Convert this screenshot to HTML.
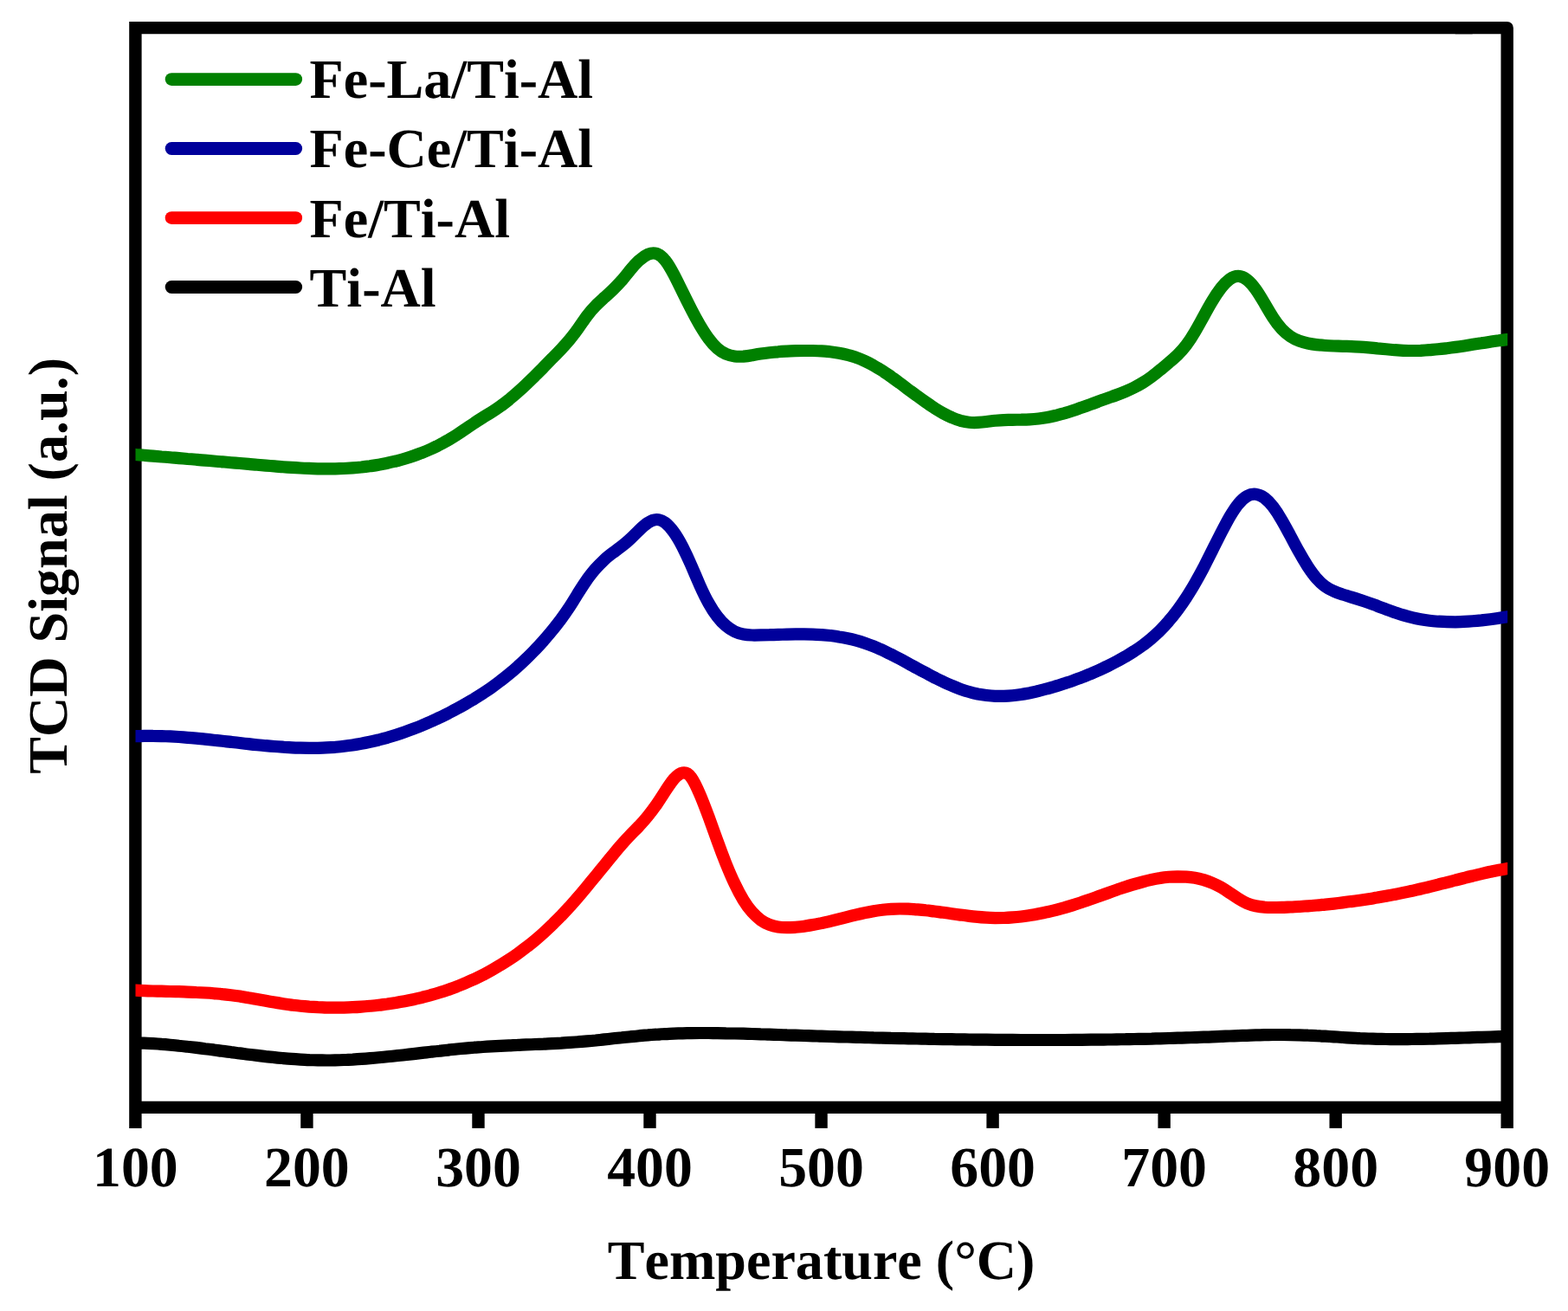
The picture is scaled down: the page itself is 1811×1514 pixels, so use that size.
<!DOCTYPE html>
<html lang="en">
<head>
<meta charset="utf-8">
<title>H2-TPR profiles</title>
<style>
html,body{margin:0;padding:0;background:#fff;}
body{width:1811px;height:1514px;overflow:hidden;}
svg{display:block;}
text{font-family:"Liberation Serif", "DejaVu Serif", serif;font-weight:bold;fill:#000;font-kerning:none;font-variant-ligatures:none;text-rendering:geometricPrecision;}
</style>
</head>
<body>
<svg width="1811" height="1514" viewBox="0 0 1811 1514">
<rect x="0" y="0" width="1811" height="1514" fill="#ffffff"/>
<g fill="none" stroke="#000" stroke-width="14.40">
<path d="M156.40 1302.90V32.15H1700.70" stroke-linejoin="miter"/>
<path d="M1680.70 32.15H1740.70V1302.90" stroke-linejoin="round"/>
<path d="M156.40 1278.85H1740.70"/>
<path d="M354.44 1278.85V1302.90"/>
<path d="M552.48 1278.85V1302.90"/>
<path d="M750.51 1278.85V1302.90"/>
<path d="M948.55 1278.85V1302.90"/>
<path d="M1146.59 1278.85V1302.90"/>
<path d="M1344.62 1278.85V1302.90"/>
<path d="M1542.66 1278.85V1302.90"/>
</g>
<clipPath id="plot"><rect x="156.5" y="0" width="1584.7" height="1514"/></clipPath>
<g fill="none" stroke-width="14.20" stroke-linejoin="round" stroke-linecap="butt" clip-path="url(#plot)">
<path stroke="#000000" d="M150.5 1204.3L156.5 1204.4C159.8 1204.5 163.2 1204.6 166.5 1204.7C169.9 1204.8 173.2 1205.0 176.6 1205.2C179.9 1205.4 183.2 1205.6 186.6 1205.9C189.9 1206.1 193.3 1206.4 196.6 1206.7C200.0 1207.0 203.3 1207.3 206.6 1207.7C210.0 1208.0 213.3 1208.4 216.7 1208.8C220.0 1209.1 223.4 1209.5 226.7 1209.9C230.1 1210.3 233.4 1210.7 236.7 1211.2C240.1 1211.6 243.4 1212.0 246.8 1212.4C250.1 1212.9 253.5 1213.3 256.8 1213.8C260.1 1214.2 263.5 1214.6 266.8 1215.1C270.2 1215.5 273.5 1216.0 276.9 1216.4C280.2 1216.8 283.5 1217.3 286.9 1217.7C290.2 1218.1 293.6 1218.5 296.9 1218.9C300.3 1219.3 303.6 1219.7 306.9 1220.1C310.3 1220.4 313.6 1220.8 317.0 1221.1C320.3 1221.5 323.7 1221.8 327.0 1222.1C330.3 1222.4 333.7 1222.7 337.0 1222.9C340.4 1223.2 343.7 1223.4 347.1 1223.6C350.4 1223.8 353.8 1223.9 357.1 1224.1C360.4 1224.2 363.8 1224.3 367.1 1224.4C370.5 1224.4 373.8 1224.5 377.2 1224.5C380.5 1224.5 383.8 1224.4 387.2 1224.3C390.5 1224.3 393.9 1224.2 397.2 1224.0C400.6 1223.9 403.9 1223.7 407.2 1223.6C410.6 1223.4 413.9 1223.2 417.3 1222.9C420.6 1222.7 424.0 1222.4 427.3 1222.2C430.6 1221.9 434.0 1221.6 437.3 1221.3C440.7 1221.0 444.0 1220.7 447.4 1220.3C450.7 1220.0 454.0 1219.7 457.4 1219.3C460.7 1218.9 464.1 1218.6 467.4 1218.2C470.8 1217.8 474.1 1217.5 477.5 1217.1C480.8 1216.7 484.1 1216.3 487.5 1215.9C490.8 1215.5 494.2 1215.2 497.5 1214.8C500.9 1214.4 504.2 1214.0 507.5 1213.7C510.9 1213.3 514.2 1212.9 517.6 1212.6C520.9 1212.2 524.3 1211.9 527.6 1211.5C530.9 1211.2 534.3 1210.9 537.6 1210.6C541.0 1210.3 544.3 1210.0 547.7 1209.7C551.0 1209.5 554.3 1209.2 557.7 1209.0C561.0 1208.8 564.4 1208.6 567.7 1208.4C571.1 1208.2 574.4 1208.0 577.7 1207.8C581.1 1207.6 584.4 1207.5 587.8 1207.3C591.1 1207.2 594.5 1207.0 597.8 1206.9C601.2 1206.7 604.5 1206.6 607.8 1206.4C611.2 1206.3 614.5 1206.2 617.9 1206.0C621.2 1205.9 624.6 1205.7 627.9 1205.6C631.2 1205.4 634.6 1205.3 637.9 1205.1C641.3 1204.9 644.6 1204.7 648.0 1204.6C651.3 1204.4 654.6 1204.2 658.0 1203.9C661.3 1203.7 664.7 1203.5 668.0 1203.2C671.4 1203.0 674.7 1202.7 678.0 1202.4C681.4 1202.1 684.7 1201.8 688.1 1201.5C691.4 1201.1 694.8 1200.8 698.1 1200.4C701.4 1200.1 704.8 1199.7 708.1 1199.3C711.5 1199.0 714.8 1198.6 718.2 1198.3C721.5 1197.9 724.9 1197.6 728.2 1197.2C731.5 1196.9 734.9 1196.6 738.2 1196.2C741.6 1195.9 744.9 1195.6 748.3 1195.4C751.6 1195.1 754.9 1194.9 758.3 1194.7C761.6 1194.4 765.0 1194.3 768.3 1194.1C771.7 1193.9 775.0 1193.8 778.3 1193.6C781.7 1193.5 785.0 1193.4 788.4 1193.3C791.7 1193.2 795.1 1193.2 798.4 1193.1C801.7 1193.1 805.1 1193.1 808.4 1193.0C811.8 1193.0 815.1 1193.0 818.5 1193.0C821.8 1193.0 825.1 1193.1 828.5 1193.1C831.8 1193.1 835.2 1193.2 838.5 1193.3C841.9 1193.3 845.2 1193.4 848.6 1193.5C851.9 1193.5 855.2 1193.6 858.6 1193.7C861.9 1193.8 865.3 1193.9 868.6 1194.0C872.0 1194.1 875.3 1194.2 878.6 1194.3C882.0 1194.4 885.3 1194.6 888.7 1194.7C892.0 1194.8 895.4 1194.9 898.7 1195.0C902.0 1195.1 905.4 1195.2 908.7 1195.4C912.1 1195.5 915.4 1195.6 918.8 1195.7C922.1 1195.8 925.4 1195.9 928.8 1196.0C932.1 1196.1 935.5 1196.2 938.8 1196.3C942.2 1196.4 945.5 1196.6 948.9 1196.7C952.2 1196.8 955.5 1196.9 958.9 1197.0C962.2 1197.1 965.6 1197.2 968.9 1197.3C972.3 1197.4 975.6 1197.5 978.9 1197.5C982.3 1197.6 985.6 1197.7 989.0 1197.8C992.3 1197.9 995.7 1198.0 999.0 1198.1C1002.3 1198.2 1005.7 1198.3 1009.0 1198.4C1012.4 1198.4 1015.7 1198.5 1019.1 1198.6C1022.4 1198.7 1025.7 1198.8 1029.1 1198.9C1032.4 1198.9 1035.8 1199.0 1039.1 1199.1C1042.5 1199.2 1045.8 1199.2 1049.1 1199.3C1052.5 1199.4 1055.8 1199.4 1059.2 1199.5C1062.5 1199.6 1065.9 1199.6 1069.2 1199.7C1072.6 1199.8 1075.9 1199.8 1079.2 1199.9C1082.6 1199.9 1085.9 1200.0 1089.3 1200.1C1092.6 1200.1 1096.0 1200.2 1099.3 1200.2C1102.6 1200.3 1106.0 1200.3 1109.3 1200.4C1112.7 1200.4 1116.0 1200.5 1119.4 1200.5C1122.7 1200.5 1126.0 1200.6 1129.4 1200.6C1132.7 1200.7 1136.1 1200.7 1139.4 1200.7C1142.8 1200.8 1146.1 1200.8 1149.4 1200.8C1152.8 1200.8 1156.1 1200.9 1159.5 1200.9C1162.8 1200.9 1166.2 1200.9 1169.5 1200.9C1172.8 1201.0 1176.2 1201.0 1179.5 1201.0C1182.9 1201.0 1186.2 1201.0 1189.6 1201.0C1192.9 1201.0 1196.3 1201.0 1199.6 1201.0C1202.9 1201.0 1206.3 1201.0 1209.6 1201.0C1213.0 1201.0 1216.3 1201.0 1219.7 1201.0C1223.0 1201.0 1226.3 1201.0 1229.7 1201.0C1233.0 1200.9 1236.4 1200.9 1239.7 1200.9C1243.1 1200.9 1246.4 1200.9 1249.7 1200.8C1253.1 1200.8 1256.4 1200.8 1259.8 1200.7C1263.1 1200.7 1266.5 1200.7 1269.8 1200.6C1273.1 1200.6 1276.5 1200.5 1279.8 1200.5C1283.2 1200.5 1286.5 1200.4 1289.9 1200.3C1293.2 1200.3 1296.5 1200.2 1299.9 1200.2C1303.2 1200.1 1306.6 1200.1 1309.9 1200.0C1313.3 1199.9 1316.6 1199.9 1320.0 1199.8C1323.3 1199.7 1326.6 1199.6 1330.0 1199.6C1333.3 1199.5 1336.7 1199.4 1340.0 1199.3C1343.4 1199.2 1346.7 1199.1 1350.0 1199.0C1353.4 1198.9 1356.7 1198.8 1360.1 1198.7C1363.4 1198.6 1366.8 1198.5 1370.1 1198.4C1373.4 1198.3 1376.8 1198.2 1380.1 1198.1C1383.5 1198.0 1386.8 1197.8 1390.2 1197.7C1393.5 1197.6 1396.8 1197.5 1400.2 1197.3C1403.5 1197.2 1406.9 1197.1 1410.2 1196.9C1413.6 1196.8 1416.9 1196.6 1420.2 1196.5C1423.6 1196.4 1426.9 1196.2 1430.3 1196.1C1433.6 1196.0 1437.0 1195.9 1440.3 1195.8C1443.7 1195.6 1447.0 1195.5 1450.3 1195.4C1453.7 1195.3 1457.0 1195.3 1460.4 1195.2C1463.7 1195.1 1467.1 1195.1 1470.4 1195.0C1473.7 1195.0 1477.1 1195.0 1480.4 1195.0C1483.8 1195.0 1487.1 1195.0 1490.5 1195.1C1493.8 1195.1 1497.1 1195.2 1500.5 1195.3C1503.8 1195.4 1507.2 1195.5 1510.5 1195.7C1513.9 1195.8 1517.2 1196.0 1520.5 1196.2C1523.9 1196.3 1527.2 1196.5 1530.6 1196.7C1533.9 1196.9 1537.3 1197.1 1540.6 1197.3C1543.9 1197.6 1547.3 1197.8 1550.6 1198.0C1554.0 1198.2 1557.3 1198.4 1560.7 1198.6C1564.0 1198.8 1567.4 1198.9 1570.7 1199.1C1574.0 1199.2 1577.4 1199.4 1580.7 1199.5C1584.1 1199.6 1587.4 1199.7 1590.8 1199.8C1594.1 1199.9 1597.4 1199.9 1600.8 1200.0C1604.1 1200.0 1607.5 1200.1 1610.8 1200.1C1614.2 1200.1 1617.5 1200.1 1620.8 1200.1C1624.2 1200.1 1627.5 1200.0 1630.9 1200.0C1634.2 1200.0 1637.6 1199.9 1640.9 1199.9C1644.2 1199.8 1647.6 1199.7 1650.9 1199.7C1654.3 1199.6 1657.6 1199.5 1661.0 1199.4C1664.3 1199.3 1667.6 1199.2 1671.0 1199.1C1674.3 1199.0 1677.7 1198.9 1681.0 1198.8C1684.4 1198.7 1687.7 1198.6 1691.1 1198.5C1694.4 1198.4 1697.7 1198.3 1701.1 1198.1C1704.4 1198.0 1707.8 1197.9 1711.1 1197.8C1714.5 1197.7 1717.8 1197.6 1721.1 1197.5C1724.5 1197.4 1727.8 1197.3 1731.2 1197.2C1734.5 1197.1 1737.9 1197.0 1741.2 1196.9L1747.2 1196.8"/>
<path stroke="#ff0000" d="M150.5 1143.5L156.5 1143.7C159.8 1143.9 163.2 1144.0 166.5 1144.1C169.9 1144.3 173.2 1144.4 176.6 1144.5C179.9 1144.6 183.2 1144.6 186.6 1144.7C189.9 1144.8 193.3 1144.9 196.6 1145.0C200.0 1145.1 203.3 1145.2 206.6 1145.2C210.0 1145.3 213.3 1145.4 216.7 1145.6C220.0 1145.7 223.4 1145.8 226.7 1146.0C230.1 1146.1 233.4 1146.3 236.7 1146.5C240.1 1146.7 243.4 1146.9 246.8 1147.2C250.1 1147.5 253.5 1147.7 256.8 1148.1C260.1 1148.4 263.5 1148.8 266.8 1149.2C270.2 1149.6 273.5 1150.0 276.9 1150.5C280.2 1151.1 283.5 1151.6 286.9 1152.2C290.2 1152.7 293.6 1153.4 296.9 1154.0C300.3 1154.6 303.6 1155.2 306.9 1155.8C310.3 1156.4 313.6 1157.0 317.0 1157.6C320.3 1158.2 323.7 1158.7 327.0 1159.2C330.3 1159.7 333.7 1160.2 337.0 1160.6C340.4 1161.0 343.7 1161.4 347.1 1161.7C350.4 1162.0 353.8 1162.3 357.1 1162.6C360.4 1162.8 363.8 1163.0 367.1 1163.2C370.5 1163.3 373.8 1163.5 377.2 1163.6C380.5 1163.6 383.8 1163.7 387.2 1163.7C390.5 1163.7 393.9 1163.7 397.2 1163.6C400.6 1163.5 403.9 1163.4 407.2 1163.2C410.6 1163.1 413.9 1162.9 417.3 1162.6C420.6 1162.4 424.0 1162.1 427.3 1161.8C430.6 1161.5 434.0 1161.2 437.3 1160.8C440.7 1160.4 444.0 1159.9 447.4 1159.5C450.7 1159.0 454.0 1158.5 457.4 1158.0C460.7 1157.4 464.1 1156.8 467.4 1156.2C470.8 1155.6 474.1 1154.9 477.5 1154.2C480.8 1153.5 484.1 1152.7 487.5 1151.9C490.8 1151.0 494.2 1150.2 497.5 1149.2C500.9 1148.3 504.2 1147.3 507.5 1146.3C510.9 1145.2 514.2 1144.1 517.6 1143.0C520.9 1141.8 524.3 1140.6 527.6 1139.3C530.9 1138.0 534.3 1136.7 537.6 1135.2C541.0 1133.8 544.3 1132.3 547.7 1130.8C551.0 1129.2 554.3 1127.6 557.7 1125.9C561.0 1124.1 564.4 1122.3 567.7 1120.5C571.1 1118.6 574.4 1116.7 577.7 1114.6C581.1 1112.6 584.4 1110.5 587.8 1108.3C591.1 1106.1 594.5 1103.8 597.8 1101.4C601.2 1099.0 604.5 1096.5 607.8 1093.9C611.2 1091.4 614.5 1088.7 617.9 1085.9C621.2 1083.1 624.6 1080.2 627.9 1077.2C631.2 1074.2 634.6 1071.1 637.9 1067.8C641.3 1064.6 644.6 1061.2 648.0 1057.8C651.3 1054.3 654.6 1050.7 658.0 1047.0C661.3 1043.3 664.7 1039.5 668.0 1035.6C671.4 1031.7 674.7 1027.7 678.0 1023.7C681.4 1019.7 684.7 1015.6 688.1 1011.5C691.4 1007.4 694.8 1003.3 698.1 999.2C701.4 995.1 704.8 991.0 708.1 986.9C711.5 982.8 714.8 978.8 718.2 975.0C721.5 971.2 724.9 967.5 728.2 964.1C731.5 960.7 734.9 957.5 738.2 953.9C741.6 950.4 744.9 946.6 748.3 942.4C751.6 938.3 754.9 933.9 758.3 929.1C761.6 924.3 765.0 919.0 768.3 913.8C771.7 908.6 775.0 903.6 778.3 899.7C781.7 895.8 785.0 893.1 788.4 892.5C791.7 891.9 795.1 893.2 798.4 897.8C801.7 902.4 805.1 909.7 808.4 917.5C811.8 925.4 815.1 934.2 818.5 943.3C821.8 952.4 825.1 961.8 828.5 971.0C831.8 980.2 835.2 989.2 838.5 997.5C841.9 1005.9 845.2 1013.6 848.6 1020.6C851.9 1027.6 855.2 1033.9 858.6 1039.4C861.9 1044.8 865.3 1049.4 868.6 1053.2C872.0 1057.0 875.3 1060.0 878.6 1062.4C882.0 1064.8 885.3 1066.6 888.7 1067.9C892.0 1069.2 895.4 1070.0 898.7 1070.5C902.0 1071.0 905.4 1071.2 908.7 1071.2C912.1 1071.2 915.4 1071.0 918.8 1070.8C922.1 1070.5 925.4 1070.2 928.8 1069.7C932.1 1069.2 935.5 1068.7 938.8 1068.1C942.2 1067.5 945.5 1066.8 948.9 1066.1C952.2 1065.3 955.5 1064.6 958.9 1063.8C962.2 1063.0 965.6 1062.1 968.9 1061.3C972.3 1060.4 975.6 1059.6 978.9 1058.8C982.3 1057.9 985.6 1057.1 989.0 1056.3C992.3 1055.6 995.7 1054.8 999.0 1054.1C1002.3 1053.4 1005.7 1052.8 1009.0 1052.2C1012.4 1051.6 1015.7 1051.1 1019.1 1050.7C1022.4 1050.3 1025.7 1050.0 1029.1 1049.8C1032.4 1049.6 1035.8 1049.5 1039.1 1049.5C1042.5 1049.5 1045.8 1049.6 1049.1 1049.7C1052.5 1049.8 1055.8 1050.1 1059.2 1050.3C1062.5 1050.6 1065.9 1050.9 1069.2 1051.3C1072.6 1051.6 1075.9 1052.1 1079.2 1052.5C1082.6 1052.9 1085.9 1053.4 1089.3 1053.8C1092.6 1054.3 1096.0 1054.8 1099.3 1055.2C1102.6 1055.7 1106.0 1056.2 1109.3 1056.6C1112.7 1057.1 1116.0 1057.5 1119.4 1057.9C1122.7 1058.3 1126.0 1058.6 1129.4 1058.9C1132.7 1059.3 1136.1 1059.5 1139.4 1059.7C1142.8 1059.9 1146.1 1060.0 1149.4 1060.1C1152.8 1060.1 1156.1 1060.1 1159.5 1060.0C1162.8 1059.9 1166.2 1059.7 1169.5 1059.4C1172.8 1059.2 1176.2 1058.9 1179.5 1058.5C1182.9 1058.1 1186.2 1057.6 1189.6 1057.1C1192.9 1056.6 1196.3 1056.0 1199.6 1055.3C1202.9 1054.7 1206.3 1054.0 1209.6 1053.2C1213.0 1052.5 1216.3 1051.7 1219.7 1050.8C1223.0 1049.9 1226.3 1049.0 1229.7 1048.1C1233.0 1047.1 1236.4 1046.1 1239.7 1045.1C1243.1 1044.0 1246.4 1043.0 1249.7 1041.8C1253.1 1040.7 1256.4 1039.6 1259.8 1038.4C1263.1 1037.2 1266.5 1036.0 1269.8 1034.8C1273.1 1033.6 1276.5 1032.4 1279.8 1031.2C1283.2 1030.0 1286.5 1028.8 1289.9 1027.6C1293.2 1026.5 1296.5 1025.3 1299.9 1024.2C1303.2 1023.1 1306.6 1022.1 1309.9 1021.1C1313.3 1020.1 1316.6 1019.2 1320.0 1018.3C1323.3 1017.4 1326.6 1016.6 1330.0 1015.9C1333.3 1015.2 1336.7 1014.6 1340.0 1014.1C1343.4 1013.5 1346.7 1013.1 1350.0 1012.8C1353.4 1012.5 1356.7 1012.4 1360.1 1012.3C1363.4 1012.3 1366.8 1012.4 1370.1 1012.6C1373.4 1012.9 1376.8 1013.3 1380.1 1013.8C1383.5 1014.4 1386.8 1015.2 1390.2 1016.1C1393.5 1017.1 1396.8 1018.3 1400.2 1019.7C1403.5 1021.1 1406.9 1022.8 1410.2 1024.7C1413.6 1026.6 1416.9 1028.8 1420.2 1031.1C1423.6 1033.4 1426.9 1035.7 1430.3 1037.8C1433.6 1039.9 1437.0 1041.8 1440.3 1043.2C1443.7 1044.6 1447.0 1045.6 1450.3 1046.3C1453.7 1047.0 1457.0 1047.5 1460.4 1047.7C1463.7 1048.0 1467.1 1048.0 1470.4 1048.0C1473.7 1048.0 1477.1 1047.9 1480.4 1047.8C1483.8 1047.8 1487.1 1047.6 1490.5 1047.5C1493.8 1047.3 1497.1 1047.2 1500.5 1047.0C1503.8 1046.8 1507.2 1046.6 1510.5 1046.3C1513.9 1046.1 1517.2 1045.8 1520.5 1045.5C1523.9 1045.3 1527.2 1044.9 1530.6 1044.6C1533.9 1044.3 1537.3 1043.9 1540.6 1043.6C1543.9 1043.2 1547.3 1042.8 1550.6 1042.4C1554.0 1042.0 1557.3 1041.6 1560.7 1041.1C1564.0 1040.7 1567.4 1040.2 1570.7 1039.7C1574.0 1039.2 1577.4 1038.7 1580.7 1038.2C1584.1 1037.7 1587.4 1037.1 1590.8 1036.6C1594.1 1036.0 1597.4 1035.4 1600.8 1034.8C1604.1 1034.2 1607.5 1033.6 1610.8 1032.9C1614.2 1032.3 1617.5 1031.6 1620.8 1030.9C1624.2 1030.2 1627.5 1029.5 1630.9 1028.8C1634.2 1028.0 1637.6 1027.3 1640.9 1026.5C1644.2 1025.7 1647.6 1025.0 1650.9 1024.1C1654.3 1023.3 1657.6 1022.5 1661.0 1021.7C1664.3 1020.8 1667.6 1020.0 1671.0 1019.1C1674.3 1018.2 1677.7 1017.4 1681.0 1016.5C1684.4 1015.7 1687.7 1014.8 1691.1 1014.0C1694.4 1013.1 1697.7 1012.3 1701.1 1011.5C1704.4 1010.6 1707.8 1009.8 1711.1 1009.1C1714.5 1008.3 1717.8 1007.5 1721.1 1006.8C1724.5 1006.1 1727.8 1005.4 1731.2 1004.8C1734.5 1004.2 1737.9 1003.6 1741.2 1003.0L1747.2 1002.0"/>
<path stroke="#00009b" d="M150.5 850.5L156.5 850.2C159.8 850.1 163.2 850.0 166.5 849.9C169.9 849.9 173.2 849.8 176.6 849.9C179.9 849.9 183.2 850.0 186.6 850.1C189.9 850.2 193.3 850.3 196.6 850.4C200.0 850.6 203.3 850.8 206.6 851.0C210.0 851.3 213.3 851.5 216.7 851.8C220.0 852.0 223.4 852.3 226.7 852.6C230.1 852.9 233.4 853.3 236.7 853.6C240.1 854.0 243.4 854.3 246.8 854.7C250.1 855.0 253.5 855.4 256.8 855.8C260.1 856.2 263.5 856.5 266.8 856.9C270.2 857.3 273.5 857.7 276.9 858.0C280.2 858.4 283.5 858.8 286.9 859.1C290.2 859.5 293.6 859.9 296.9 860.2C300.3 860.5 303.6 860.8 306.9 861.2C310.3 861.5 313.6 861.7 317.0 862.0C320.3 862.3 323.7 862.5 327.0 862.7C330.3 863.0 333.7 863.1 337.0 863.3C340.4 863.5 343.7 863.6 347.1 863.7C350.4 863.8 353.8 863.8 357.1 863.8C360.4 863.8 363.8 863.8 367.1 863.8C370.5 863.7 373.8 863.6 377.2 863.4C380.5 863.2 383.8 863.0 387.2 862.8C390.5 862.5 393.9 862.2 397.2 861.8C400.6 861.4 403.9 861.0 407.2 860.5C410.6 860.0 413.9 859.4 417.3 858.8C420.6 858.2 424.0 857.5 427.3 856.8C430.6 856.1 434.0 855.3 437.3 854.5C440.7 853.6 444.0 852.7 447.4 851.8C450.7 850.8 454.0 849.8 457.4 848.7C460.7 847.7 464.1 846.6 467.4 845.4C470.8 844.2 474.1 843.0 477.5 841.7C480.8 840.4 484.1 839.1 487.5 837.7C490.8 836.3 494.2 834.9 497.5 833.4C500.9 831.9 504.2 830.3 507.5 828.8C510.9 827.2 514.2 825.5 517.6 823.8C520.9 822.1 524.3 820.4 527.6 818.6C530.9 816.8 534.3 814.9 537.6 813.0C541.0 811.1 544.3 809.1 547.7 807.1C551.0 805.0 554.3 802.9 557.7 800.7C561.0 798.5 564.4 796.3 567.7 793.9C571.1 791.5 574.4 789.1 577.7 786.5C581.1 784.0 584.4 781.3 587.8 778.5C591.1 775.8 594.5 772.9 597.8 769.9C601.2 766.9 604.5 763.8 607.8 760.6C611.2 757.4 614.5 754.0 617.9 750.5C621.2 747.1 624.6 743.4 627.9 739.7C631.2 735.9 634.6 732.0 637.9 727.9C641.3 723.8 644.6 719.5 648.0 715.0C651.3 710.5 654.6 705.7 658.0 700.6C661.3 695.5 664.7 689.9 668.0 684.5C671.4 679.1 674.7 674.0 678.0 669.3C681.4 664.7 684.7 660.4 688.1 656.6C691.4 652.8 694.8 649.4 698.1 646.3C701.4 643.3 704.8 640.7 708.1 638.2C711.5 635.7 714.8 633.3 718.2 630.7C721.5 628.1 724.9 625.3 728.2 622.1C731.5 619.0 734.9 615.5 738.2 612.3C741.6 609.1 744.9 606.0 748.3 603.8C751.6 601.5 754.9 600.1 758.3 600.0C761.6 599.9 765.0 601.2 768.3 603.7C771.7 606.3 775.0 610.0 778.3 614.7C781.7 619.4 785.0 625.1 788.4 631.6C791.7 638.1 795.1 645.4 798.4 653.0C801.7 660.6 805.1 668.7 808.4 676.2C811.8 683.8 815.1 690.7 818.5 696.6C821.8 702.6 825.1 707.7 828.5 712.0C831.8 716.3 835.2 719.8 838.5 722.7C841.9 725.6 845.2 727.8 848.6 729.4C851.9 731.0 855.2 732.0 858.6 732.6C861.9 733.2 865.3 733.4 868.6 733.5C872.0 733.6 875.3 733.5 878.6 733.4C882.0 733.3 885.3 733.2 888.7 733.2C892.0 733.1 895.4 733.0 898.7 732.9C902.0 732.8 905.4 732.7 908.7 732.6C912.1 732.5 915.4 732.4 918.8 732.4C922.1 732.4 925.4 732.4 928.8 732.4C932.1 732.4 935.5 732.5 938.8 732.6C942.2 732.7 945.5 732.9 948.9 733.1C952.2 733.4 955.5 733.7 958.9 734.0C962.2 734.4 965.6 734.8 968.9 735.4C972.3 735.9 975.6 736.5 978.9 737.2C982.3 737.9 985.6 738.7 989.0 739.6C992.3 740.5 995.7 741.6 999.0 742.7C1002.3 743.8 1005.7 745.1 1009.0 746.4C1012.4 747.8 1015.7 749.3 1019.1 750.8C1022.4 752.3 1025.7 754.0 1029.1 755.6C1032.4 757.3 1035.8 759.1 1039.1 760.8C1042.5 762.6 1045.8 764.4 1049.1 766.2C1052.5 768.0 1055.8 769.9 1059.2 771.7C1062.5 773.5 1065.9 775.3 1069.2 777.1C1072.6 778.9 1075.9 780.7 1079.2 782.4C1082.6 784.1 1085.9 785.8 1089.3 787.3C1092.6 788.9 1096.0 790.4 1099.3 791.8C1102.6 793.3 1106.0 794.6 1109.3 795.8C1112.7 797.0 1116.0 798.1 1119.4 799.0C1122.7 800.0 1126.0 800.8 1129.4 801.5C1132.7 802.1 1136.1 802.6 1139.4 803.0C1142.8 803.4 1146.1 803.7 1149.4 803.8C1152.8 803.9 1156.1 803.9 1159.5 803.8C1162.8 803.7 1166.2 803.5 1169.5 803.2C1172.8 802.9 1176.2 802.4 1179.5 801.9C1182.9 801.4 1186.2 800.8 1189.6 800.2C1192.9 799.5 1196.3 798.8 1199.6 797.9C1202.9 797.1 1206.3 796.3 1209.6 795.3C1213.0 794.4 1216.3 793.4 1219.7 792.4C1223.0 791.4 1226.3 790.3 1229.7 789.2C1233.0 788.1 1236.4 787.0 1239.7 785.8C1243.1 784.6 1246.4 783.3 1249.7 782.1C1253.1 780.8 1256.4 779.4 1259.8 778.1C1263.1 776.7 1266.5 775.2 1269.8 773.7C1273.1 772.2 1276.5 770.6 1279.8 769.0C1283.2 767.3 1286.5 765.6 1289.9 763.8C1293.2 762.0 1296.5 760.1 1299.9 758.2C1303.2 756.2 1306.6 754.2 1309.9 752.0C1313.3 749.9 1316.6 747.6 1320.0 745.1C1323.3 742.7 1326.6 740.0 1330.0 737.2C1333.3 734.3 1336.7 731.3 1340.0 728.0C1343.4 724.6 1346.7 721.0 1350.0 717.1C1353.4 713.3 1356.7 709.1 1360.1 704.5C1363.4 700.0 1366.8 695.2 1370.1 690.1C1373.4 684.9 1376.8 679.5 1380.1 673.7C1383.5 667.9 1386.8 661.8 1390.2 655.4C1393.5 648.9 1396.8 642.3 1400.2 635.5C1403.5 628.8 1406.9 622.1 1410.2 615.6C1413.6 609.1 1416.9 602.8 1420.2 597.0C1423.6 591.3 1426.9 586.1 1430.3 582.0C1433.6 577.8 1437.0 574.7 1440.3 572.9C1443.7 571.1 1447.0 570.4 1450.3 570.8C1453.7 571.2 1457.0 572.6 1460.4 575.0C1463.7 577.5 1467.1 580.9 1470.4 585.3C1473.7 589.6 1477.1 594.9 1480.4 600.7C1483.8 606.4 1487.1 612.7 1490.5 619.0C1493.8 625.3 1497.1 631.6 1500.5 637.6C1503.8 643.6 1507.2 649.2 1510.5 654.3C1513.9 659.4 1517.2 664.0 1520.5 667.8C1523.9 671.7 1527.2 674.8 1530.6 677.2C1533.9 679.6 1537.3 681.4 1540.6 682.8C1543.9 684.3 1547.3 685.4 1550.6 686.5C1554.0 687.5 1557.3 688.6 1560.7 689.6C1564.0 690.6 1567.4 691.7 1570.7 692.7C1574.0 693.8 1577.4 695.0 1580.7 696.1C1584.1 697.3 1587.4 698.6 1590.8 699.8C1594.1 701.1 1597.4 702.3 1600.8 703.6C1604.1 704.8 1607.5 706.0 1610.8 707.2C1614.2 708.3 1617.5 709.4 1620.8 710.4C1624.2 711.4 1627.5 712.3 1630.9 713.1C1634.2 713.9 1637.6 714.6 1640.9 715.2C1644.2 715.8 1647.6 716.3 1650.9 716.7C1654.3 717.1 1657.6 717.4 1661.0 717.7C1664.3 717.9 1667.6 718.1 1671.0 718.2C1674.3 718.3 1677.7 718.3 1681.0 718.3C1684.4 718.2 1687.7 718.1 1691.1 717.9C1694.4 717.8 1697.7 717.6 1701.1 717.3C1704.4 717.0 1707.8 716.7 1711.1 716.4C1714.5 716.0 1717.8 715.6 1721.1 715.2C1724.5 714.8 1727.8 714.3 1731.2 713.8C1734.5 713.3 1737.9 712.8 1741.2 712.3L1747.2 711.4"/>
<path stroke="#008000" d="M150.5 524.5L156.5 525.0C159.8 525.3 163.2 525.5 166.5 525.8C169.9 526.1 173.2 526.4 176.6 526.6C179.9 526.9 183.2 527.2 186.6 527.5C189.9 527.7 193.3 528.0 196.6 528.3C200.0 528.6 203.3 528.8 206.6 529.1C210.0 529.4 213.3 529.7 216.7 530.0C220.0 530.2 223.4 530.5 226.7 530.8C230.1 531.1 233.4 531.4 236.7 531.6C240.1 531.9 243.4 532.2 246.8 532.5C250.1 532.8 253.5 533.1 256.8 533.3C260.1 533.6 263.5 533.9 266.8 534.2C270.2 534.5 273.5 534.7 276.9 535.0C280.2 535.3 283.5 535.6 286.9 535.9C290.2 536.2 293.6 536.4 296.9 536.7C300.3 537.0 303.6 537.3 306.9 537.6C310.3 537.9 313.6 538.1 317.0 538.4C320.3 538.7 323.7 538.9 327.0 539.2C330.3 539.4 333.7 539.7 337.0 539.9C340.4 540.1 343.7 540.3 347.1 540.5C350.4 540.7 353.8 540.8 357.1 540.9C360.4 541.1 363.8 541.2 367.1 541.3C370.5 541.3 373.8 541.4 377.2 541.4C380.5 541.4 383.8 541.4 387.2 541.3C390.5 541.2 393.9 541.1 397.2 541.0C400.6 540.8 403.9 540.6 407.2 540.4C410.6 540.1 413.9 539.8 417.3 539.5C420.6 539.1 424.0 538.7 427.3 538.3C430.6 537.8 434.0 537.3 437.3 536.7C440.7 536.2 444.0 535.5 447.4 534.8C450.7 534.1 454.0 533.3 457.4 532.5C460.7 531.6 464.1 530.7 467.4 529.7C470.8 528.7 474.1 527.7 477.5 526.5C480.8 525.4 484.1 524.1 487.5 522.8C490.8 521.5 494.2 520.1 497.5 518.6C500.9 517.1 504.2 515.4 507.5 513.7C510.9 512.0 514.2 510.2 517.6 508.3C520.9 506.3 524.3 504.3 527.6 502.1C530.9 500.0 534.3 497.7 537.6 495.4C541.0 493.1 544.3 490.8 547.7 488.6C551.0 486.3 554.3 484.2 557.7 482.1C561.0 480.1 564.4 478.1 567.7 476.0C571.1 473.9 574.4 471.7 577.7 469.3C581.1 466.9 584.4 464.3 587.8 461.6C591.1 458.8 594.5 456.0 597.8 453.0C601.2 450.0 604.5 447.0 607.8 443.8C611.2 440.6 614.5 437.4 617.9 434.1C621.2 430.8 624.6 427.4 627.9 424.0C631.2 420.6 634.6 417.2 637.9 413.7C641.3 410.3 644.6 406.9 648.0 403.3C651.3 399.8 654.6 396.1 658.0 392.1C661.3 388.1 664.7 383.8 668.0 379.0C671.4 374.2 674.7 369.2 678.0 364.7C681.4 360.2 684.7 356.4 688.1 353.0C691.4 349.6 694.8 346.6 698.1 343.6C701.4 340.6 704.8 337.6 708.1 334.4C711.5 331.1 714.8 327.6 718.2 323.8C721.5 319.9 724.9 315.6 728.2 311.6C731.5 307.5 734.9 303.8 738.2 300.7C741.6 297.7 744.9 295.3 748.3 293.8C751.6 292.4 754.9 291.9 758.3 292.9C761.6 293.9 765.0 296.4 768.3 300.7C771.7 304.9 775.0 310.7 778.3 317.1C781.7 323.5 785.0 330.5 788.4 337.3C791.7 344.1 795.1 350.8 798.4 357.2C801.7 363.7 805.1 369.9 808.4 375.6C811.8 381.3 815.1 386.6 818.5 391.1C821.8 395.6 825.1 399.4 828.5 402.3C831.8 405.2 835.2 407.3 838.5 408.8C841.9 410.2 845.2 411.1 848.6 411.5C851.9 411.9 855.2 411.8 858.6 411.6C861.9 411.3 865.3 410.8 868.6 410.2C872.0 409.6 875.3 409.0 878.6 408.5C882.0 408.0 885.3 407.6 888.7 407.2C892.0 406.8 895.4 406.5 898.7 406.3C902.0 406.0 905.4 405.8 908.7 405.6C912.1 405.4 915.4 405.3 918.8 405.2C922.1 405.1 925.4 405.0 928.8 405.0C932.1 405.0 935.5 405.0 938.8 405.0C942.2 405.1 945.5 405.2 948.9 405.4C952.2 405.6 955.5 405.9 958.9 406.2C962.2 406.6 965.6 407.1 968.9 407.7C972.3 408.3 975.6 409.0 978.9 409.9C982.3 410.7 985.6 411.8 989.0 412.9C992.3 414.1 995.7 415.5 999.0 417.0C1002.3 418.5 1005.7 420.3 1009.0 422.2C1012.4 424.0 1015.7 426.1 1019.1 428.2C1022.4 430.4 1025.7 432.7 1029.1 435.0C1032.4 437.4 1035.8 439.8 1039.1 442.3C1042.5 444.7 1045.8 447.3 1049.1 449.8C1052.5 452.3 1055.8 454.8 1059.2 457.2C1062.5 459.7 1065.9 462.1 1069.2 464.4C1072.6 466.8 1075.9 469.0 1079.2 471.2C1082.6 473.3 1085.9 475.3 1089.3 477.2C1092.6 479.0 1096.0 480.7 1099.3 482.1C1102.6 483.6 1106.0 484.8 1109.3 485.8C1112.7 486.7 1116.0 487.4 1119.4 487.7C1122.7 488.1 1126.0 488.1 1129.4 487.9C1132.7 487.7 1136.1 487.4 1139.4 487.0C1142.8 486.6 1146.1 486.1 1149.4 485.8C1152.8 485.5 1156.1 485.2 1159.5 485.1C1162.8 485.0 1166.2 484.9 1169.5 484.8C1172.8 484.8 1176.2 484.7 1179.5 484.7C1182.9 484.6 1186.2 484.5 1189.6 484.3C1192.9 484.2 1196.3 483.9 1199.6 483.5C1202.9 483.1 1206.3 482.6 1209.6 482.0C1213.0 481.4 1216.3 480.6 1219.7 479.8C1223.0 479.0 1226.3 478.0 1229.7 477.1C1233.0 476.1 1236.4 475.0 1239.7 473.9C1243.1 472.8 1246.4 471.6 1249.7 470.5C1253.1 469.3 1256.4 468.1 1259.8 466.9C1263.1 465.6 1266.5 464.4 1269.8 463.2C1273.1 462.0 1276.5 460.8 1279.8 459.6C1283.2 458.4 1286.5 457.3 1289.9 456.0C1293.2 454.8 1296.5 453.5 1299.9 452.1C1303.2 450.7 1306.6 449.2 1309.9 447.5C1313.3 445.8 1316.6 444.0 1320.0 441.9C1323.3 439.9 1326.6 437.6 1330.0 435.1C1333.3 432.6 1336.7 429.9 1340.0 427.1C1343.4 424.4 1346.7 421.6 1350.0 418.8C1353.4 416.1 1356.7 413.2 1360.1 409.9C1363.4 406.6 1366.8 402.9 1370.1 398.5C1373.4 394.1 1376.8 388.9 1380.1 383.2C1383.5 377.5 1386.8 371.3 1390.2 365.2C1393.5 359.1 1396.8 353.1 1400.2 347.5C1403.5 341.9 1406.9 336.9 1410.2 332.6C1413.6 328.3 1416.9 324.9 1420.2 322.5C1423.6 320.1 1426.9 318.8 1430.3 318.9C1433.6 319.0 1437.0 320.5 1440.3 323.1C1443.7 325.7 1447.0 329.5 1450.3 334.2C1453.7 338.9 1457.0 344.5 1460.4 350.2C1463.7 355.9 1467.1 361.8 1470.4 366.9C1473.7 372.1 1477.1 376.4 1480.4 380.0C1483.8 383.6 1487.1 386.4 1490.5 388.6C1493.8 390.8 1497.1 392.4 1500.5 393.7C1503.8 394.9 1507.2 395.8 1510.5 396.5C1513.9 397.2 1517.2 397.7 1520.5 398.1C1523.9 398.5 1527.2 398.8 1530.6 399.0C1533.9 399.3 1537.3 399.4 1540.6 399.5C1543.9 399.6 1547.3 399.7 1550.6 399.8C1554.0 399.9 1557.3 400.0 1560.7 400.1C1564.0 400.2 1567.4 400.4 1570.7 400.6C1574.0 400.8 1577.4 401.1 1580.7 401.4C1584.1 401.7 1587.4 402.0 1590.8 402.4C1594.1 402.7 1597.4 403.0 1600.8 403.3C1604.1 403.6 1607.5 403.9 1610.8 404.2C1614.2 404.4 1617.5 404.6 1620.8 404.8C1624.2 404.9 1627.5 405.0 1630.9 405.0C1634.2 405.0 1637.6 404.9 1640.9 404.8C1644.2 404.6 1647.6 404.4 1650.9 404.2C1654.3 403.9 1657.6 403.7 1661.0 403.3C1664.3 403.0 1667.6 402.6 1671.0 402.2C1674.3 401.8 1677.7 401.3 1681.0 400.9C1684.4 400.4 1687.7 399.9 1691.1 399.4C1694.4 398.9 1697.7 398.4 1701.1 397.8C1704.4 397.3 1707.8 396.8 1711.1 396.3C1714.5 395.7 1717.8 395.2 1721.1 394.7C1724.5 394.2 1727.8 393.7 1731.2 393.3C1734.5 392.8 1737.9 392.4 1741.2 392.0L1747.2 391.2"/>
</g>
<g stroke-width="14.8" stroke-linecap="round" fill="none">
<path stroke="#008000" d="M198.1 91.6H341.7"/>
<path stroke="#00009b" d="M198.1 171.5H341.7"/>
<path stroke="#ff0000" d="M198.1 251.6H341.7"/>
<path stroke="#000000" d="M198.1 331.5H341.7"/>
</g>
<g font-size="64.1">
<text x="357.6" y="113.4">Fe-La/Ti-Al</text>
<text x="357.6" y="193.4">Fe-Ce/Ti-Al</text>
<text x="357.6" y="273.6">Fe/Ti-Al</text>
<text x="357.6" y="353.8">Ti-Al</text>
</g>
<g font-size="65.8" text-anchor="middle">
<text x="156.4" y="1370.4">100</text>
<text x="354.4" y="1370.4">200</text>
<text x="552.5" y="1370.4">300</text>
<text x="750.5" y="1370.4">400</text>
<text x="948.5" y="1370.4">500</text>
<text x="1146.6" y="1370.4">600</text>
<text x="1344.6" y="1370.4">700</text>
<text x="1542.7" y="1370.4">800</text>
<text x="1740.7" y="1370.4">900</text>
</g>
<text x="948.6" y="1476.6" font-size="64.1" text-anchor="middle">Temperature (°C)</text>
<text transform="translate(77.3 653.4) rotate(-90)" font-size="64.1" text-anchor="middle">TCD Signal (a.u.)</text>
</svg>
</body>
</html>
